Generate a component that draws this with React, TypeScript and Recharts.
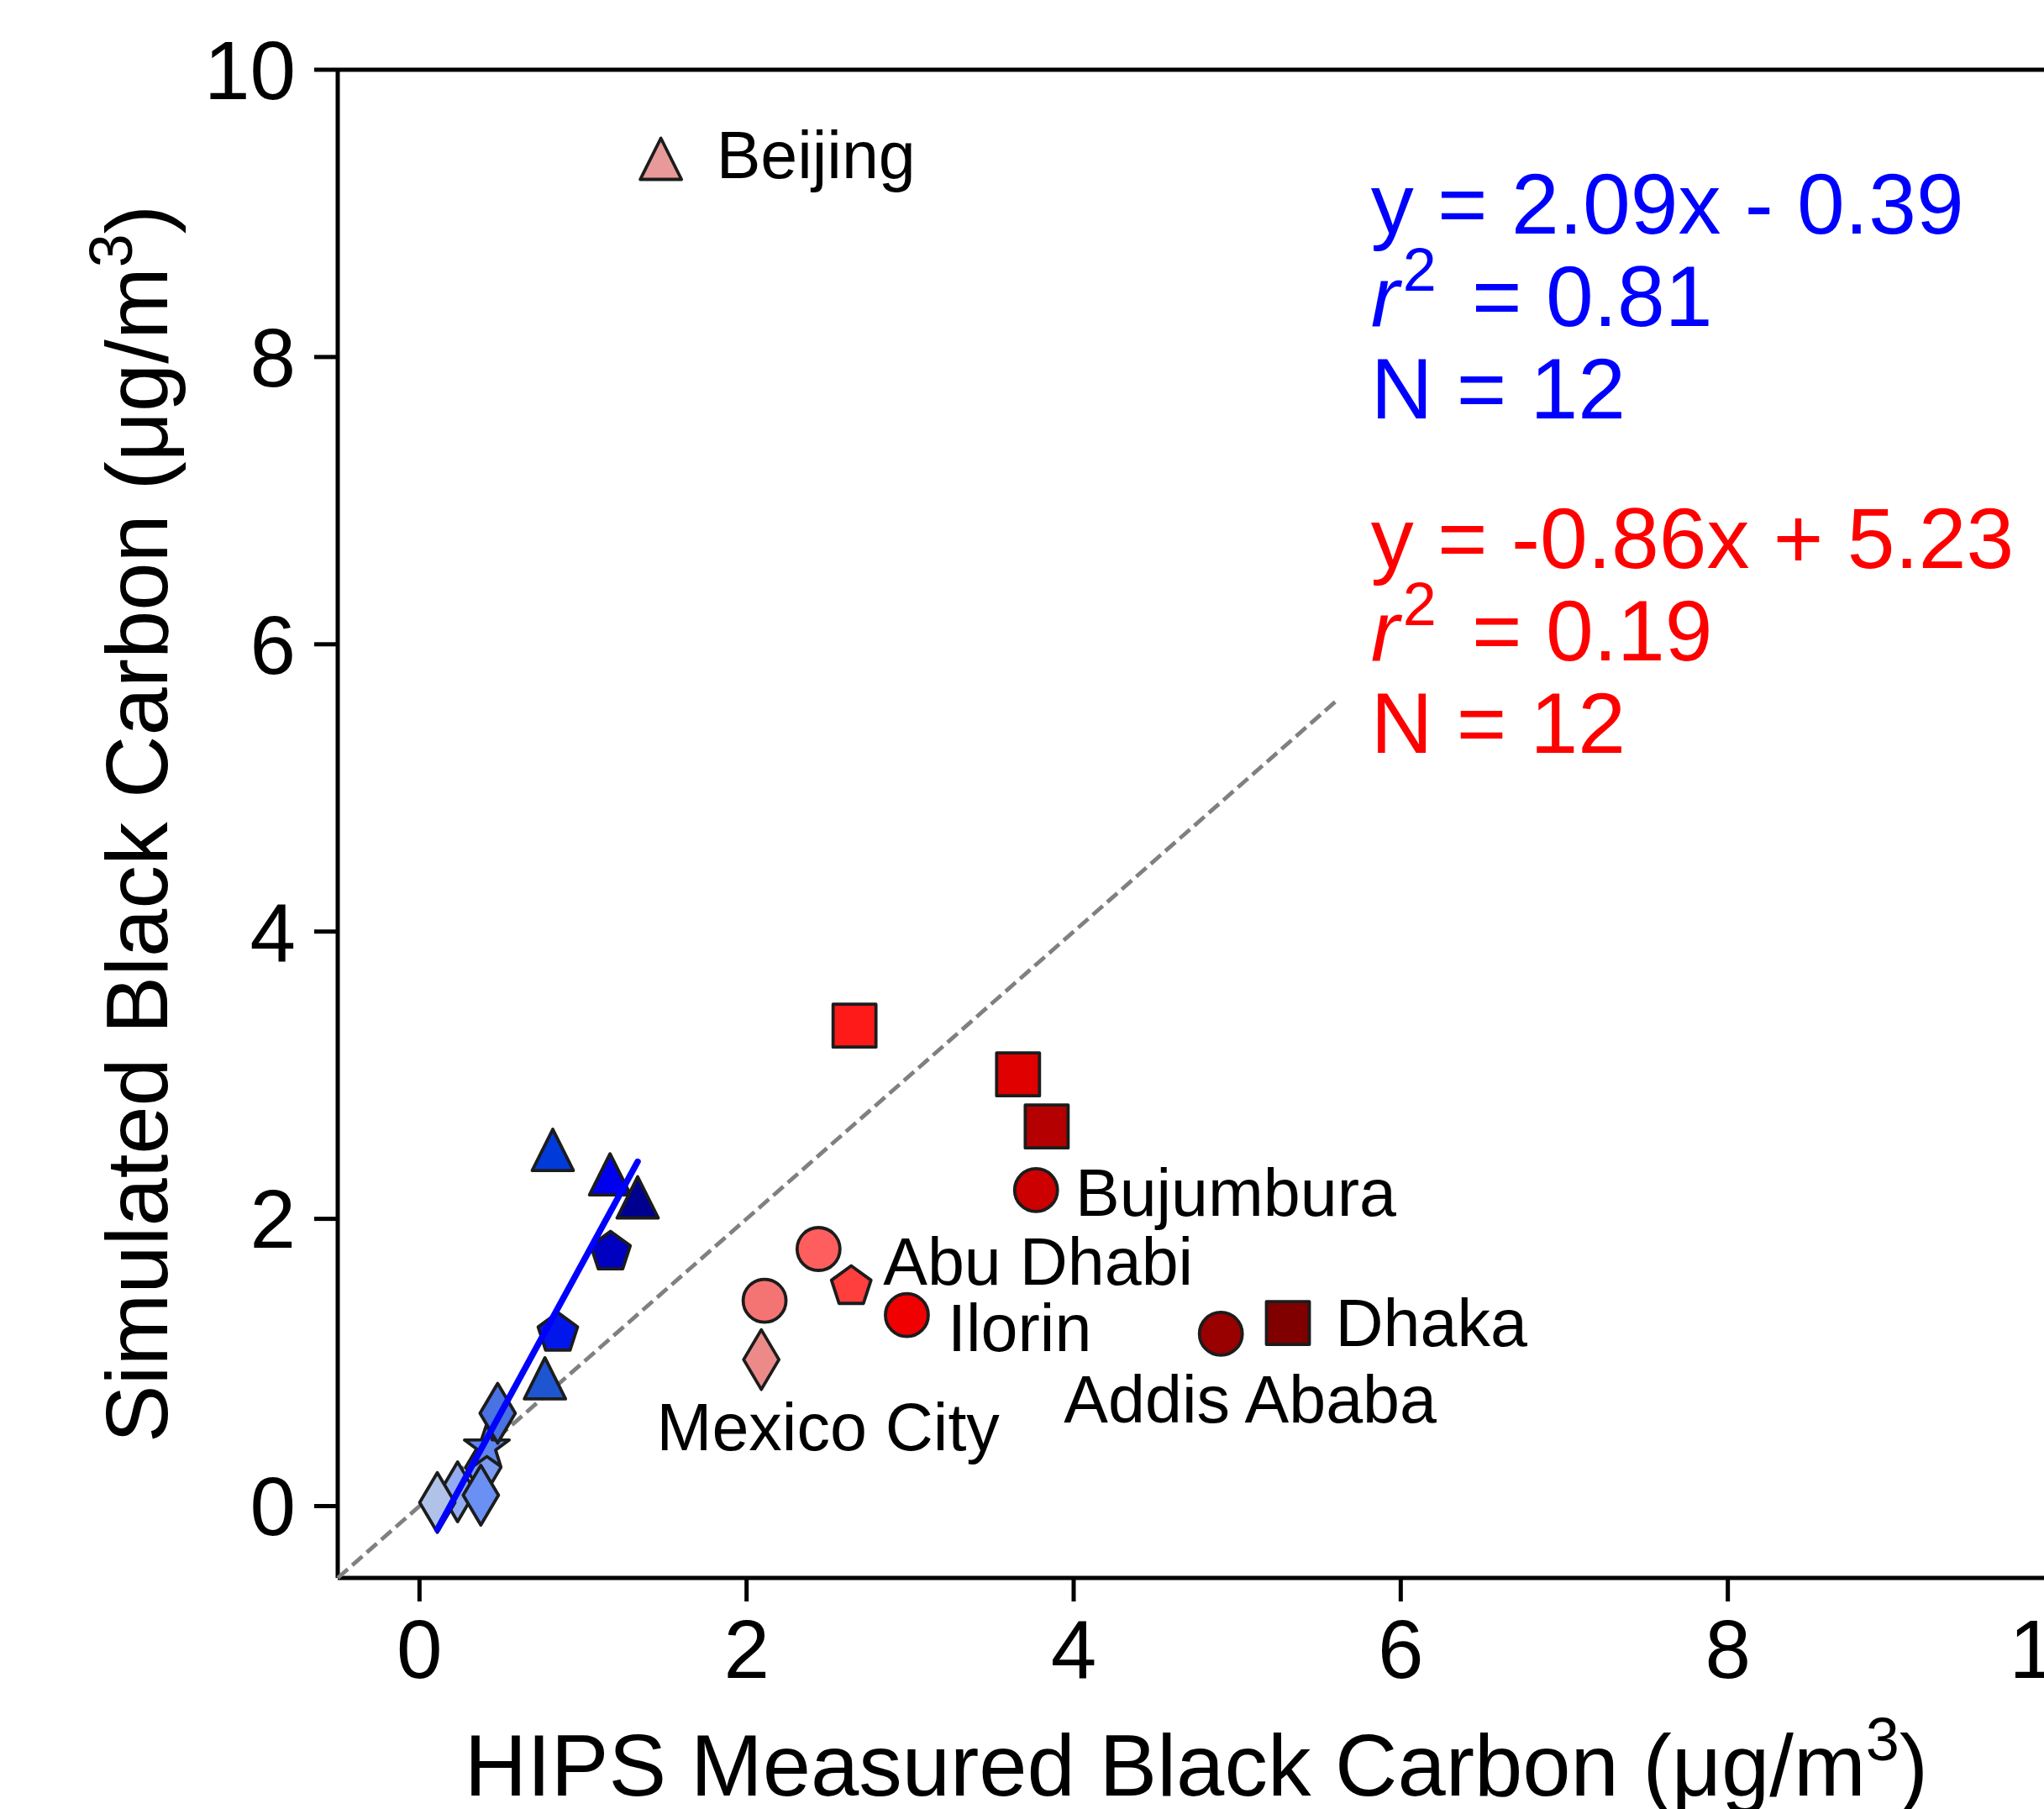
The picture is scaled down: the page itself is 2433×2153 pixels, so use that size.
import { ScatterChart, Scatter, XAxis, YAxis, ReferenceLine } from 'recharts'

// ─── Data ─────────────────────────────────────────────────────────────────────

const AXIS_TICKS = [0, 2, 4, 6, 8, 10]
const AXIS_DOMAIN: [number, number] = [-0.5, 10]

// Blue group, listed back-to-front (overlap order matters in the cluster)
const BLUE_X = [0.39, 0.233, 0.109, 0.375, 0.412, 0.478, 0.767, 0.846, 1.168, 0.815, 1.165, 1.334]
const BLUE_Y = [0.27, 0.1, 0.025, 0.076, 0.41, 0.646, 0.89, 1.215, 1.78, 2.48, 2.31, 2.15]
const BLUE_MARKERS = ['d', 'd', 'd', 'd', '*', 'd', '^', 'p', 'p', '^', '^', '^']

// Red group
const RED_X = [1.476, 2.66, 3.66, 3.835, 3.77, 2.44, 2.64, 2.11, 2.98, 2.09, 4.9, 5.31]
const RED_Y = [9.38, 3.345, 3.006, 2.643, 2.2, 1.79, 1.54, 1.43, 1.33, 1.02, 1.2, 1.275]
const RED_MARKERS = ['^', 's', 's', 's', 'o', 'o', 'p', 'o', 'o', 'd', 'o', 's']

// City annotations (text baseline-left, in data units)
const CITY_NAMES = ['Beijing', 'Bujumbura', 'Abu Dhabi', 'Ilorin', 'Mexico City', 'Addis Ababa', 'Dhaka']
const CITY_LABEL_X = [1.815, 4.01, 2.835, 3.23, 1.45, 3.94, 5.6]
const CITY_LABEL_Y = [9.245, 2.02, 1.544, 1.08, 0.39, 0.585, 1.115]

// Regression stats
const BLUE_FIT = { slope: 2.09, intercept: -0.39, r2: 0.81, n: 12 }
const RED_FIT = { slope: -0.86, intercept: 5.23, r2: 0.19, n: 12 }
const FIT_TEXT_X = 5.817
const FIT_TEXT_Y = [8.86, 6.53] // first baseline of blue / red block

// 1:1 reference
const ONE_TO_ONE_X = [-0.5, 5.6]

// ─── Style ────────────────────────────────────────────────────────────────────

const FONT = '"Liberation Sans", Arial, Helvetica, sans-serif'
const EDGE = '#1c1c1c'

const BLUE_FILLS = ['#7b9bf2', '#93abf0', '#b0c2e8', '#6b90f3', '#5f87ee', '#4a72e0',
  '#1e56d2', '#0016ea', '#0000c0', '#003ad8', '#0000ee', '#000090']
const RED_FILLS = ['#e89a9a', '#ff1a1a', '#e00000', '#b40000', '#cc0000', '#ff5e5e',
  '#ff3e3e', '#f47474', '#f00000', '#ec8a8a', '#990000', '#800000']

const W = 2500
const H = 2153
const Y_AXIS_W = 120
const X_AXIS_H = 120
const MARGIN = { top: 83, right: 54, bottom: 155, left: 282 }
const PLOT_L = MARGIN.left + Y_AXIS_W
const PLOT_R = W - MARGIN.right
const PLOT_T = MARGIN.top
const PLOT_B = H - MARGIN.bottom - X_AXIS_H

// ─── Prep ─────────────────────────────────────────────────────────────────────

const bluePoints = BLUE_X.map((x, i) => ({ x, y: BLUE_Y[i], marker: BLUE_MARKERS[i], fill: BLUE_FILLS[i] }))
const redPoints = RED_X.map((x, i) => ({ x, y: RED_Y[i], marker: RED_MARKERS[i], fill: RED_FILLS[i] }))
const cityLabels = CITY_NAMES.map((name, i) => ({ x: CITY_LABEL_X[i], y: CITY_LABEL_Y[i], name }))

const blueFitLine = [Math.min(...BLUE_X), Math.max(...BLUE_X)]
  .map(x => ({ x, y: BLUE_FIT.slope * x + BLUE_FIT.intercept }))
const oneToOne = ONE_TO_ONE_X.map(v => ({ x: v, y: v }))

const fitBlocks = [
  { x: FIT_TEXT_X, y: FIT_TEXT_Y[0], ...BLUE_FIT, color: '#0000ff' },
  { x: FIT_TEXT_X, y: FIT_TEXT_Y[1], ...RED_FIT, color: '#ff0000' },
]

// ─── Shapes ───────────────────────────────────────────────────────────────────

function pts(cx: number, cy: number, verts: number[][]) {
  return verts.map(([dx, dy]) => `${cx + dx},${cy + dy}`).join(' ')
}

function regular(n: number, r: number, inner?: number) {
  const out: number[][] = []
  const steps = inner ? n * 2 : n
  for (let k = 0; k < steps; k++) {
    const a = -Math.PI / 2 + (k * 2 * Math.PI) / steps
    const rr = inner && k % 2 === 1 ? inner : r
    out.push([rr * Math.cos(a), rr * Math.sin(a)])
  }
  return out
}

// eslint-disable-next-line @typescript-eslint/no-explicit-any
function Marker(props: any) {
  const { cx, cy, payload } = props
  const style = { fill: payload.fill, stroke: EDGE, strokeWidth: 3.8, strokeLinejoin: 'round' as const }
  switch (payload.marker) {
    case 'o':
      return <circle cx={cx} cy={cy} r={25.5} {...style} />
    case 's':
      return <rect x={cx - 25.5} y={cy - 25.5} width={51} height={51} {...style} />
    case '^':
      return <polygon points={pts(cx, cy, [[0, -24.5], [-24.5, 24.5], [24.5, 24.5]])} {...style} />
    case 'p':
      return <polygon points={pts(cx, cy + 2, regular(5, 24.7))} {...style} />
    case 'd':
      return <polygon points={pts(cx, cy, [[0, -35.5], [21, 0], [0, 35.5], [-21, 0]])} {...style} />
    case '*':
      return <polygon points={pts(cx, cy, regular(5, 28, 11))} {...style} />
    default:
      return <g />
  }
}

// Straight segment through the scatter's projected points
function segment(stroke: string, width: number, dash?: string) {
  // eslint-disable-next-line @typescript-eslint/no-explicit-any
  return (props: any) => {
    const p = props.points ?? []
    if (p.length < 2) return <g />
    const d = p.map((q: { x: number; y: number }, i: number) => `${i ? 'L' : 'M'}${q.x},${q.y}`).join(' ')
    return (
      <path d={d} fill="none" stroke={stroke} strokeWidth={width}
        strokeDasharray={dash} strokeLinecap={dash ? 'butt' : 'round'} />
    )
  }
}

// eslint-disable-next-line @typescript-eslint/no-explicit-any
function CityLabel({ cx, cy, payload }: any) {
  return (
    <text x={cx} y={cy} fontSize={79} fontFamily={FONT} fill="#000">{payload.name}</text>
  )
}

// eslint-disable-next-line @typescript-eslint/no-explicit-any
function FitBlock({ cx, cy, payload }: any) {
  const { slope, intercept, r2, n, color } = payload
  const eq = `y = ${slope.toFixed(2)}x ${intercept < 0 ? '-' : '+'} ${Math.abs(intercept).toFixed(2)}`
  return (
    <g fill={color} fontFamily={FONT} fontSize={102} style={{ whiteSpace: 'pre' }}>
      <text x={cx} y={cy}>{eq}</text>
      <text x={cx} y={cy + 110}>
        <tspan fontStyle="italic">r</tspan>
        <tspan fontSize={72} dx={4} dy={-42}>2</tspan>
        <tspan dx={14} dy={42}>{' = ' + r2.toFixed(2)}</tspan>
      </text>
      <text x={cx} y={cy + 220}>{`N = ${n}`}</text>
    </g>
  )
}

const noDot = () => <g />

// ─── Axes ─────────────────────────────────────────────────────────────────────

// eslint-disable-next-line @typescript-eslint/no-explicit-any
function XTick({ x, y, payload }: any) {
  return (
    <text x={x} y={y} dy="0.71em" textAnchor="middle" fontSize={98} fontFamily={FONT} fill="#000">
      {payload.value}
    </text>
  )
}

// eslint-disable-next-line @typescript-eslint/no-explicit-any
function YTick({ x, y, payload }: any) {
  return (
    <text x={x} y={y} dy="0.355em" textAnchor="end" fontSize={98} fontFamily={FONT} fill="#000">
      {payload.value}
    </text>
  )
}

function XTitle() {
  return (
    <text x={(PLOT_L + PLOT_R) / 2} y={2137} textAnchor="middle" fontSize={103} fontFamily={FONT} fill="#000">
      HIPS Measured Black Carbon (μg/m<tspan fontSize={72} dy={-42}>3</tspan><tspan dy={42}>)</tspan>
    </text>
  )
}

function YTitle() {
  const cx = 199
  const cy = (PLOT_T + PLOT_B) / 2
  return (
    <text x={cx} y={cy} transform={`rotate(-90, ${cx}, ${cy})`} textAnchor="middle"
      fontSize={103} fontFamily={FONT} fill="#000">
      Simulated Black Carbon (μg/m<tspan fontSize={72} dy={-42}>3</tspan><tspan dy={42}>)</tspan>
    </text>
  )
}

const axisStroke = { stroke: '#000', strokeWidth: 5 }

// ─── Component ────────────────────────────────────────────────────────────────

export default function App() {
  return (
    <div style={{
      position: 'absolute', left: 0, top: 0, width: 2433, height: 2153,
      overflow: 'hidden', background: '#fff',
    }}>
      <ScatterChart width={W} height={H} margin={MARGIN}>
        <XAxis
          type="number"
          dataKey="x"
          domain={AXIS_DOMAIN}
          ticks={AXIS_TICKS}
          interval={0}
          height={X_AXIS_H}
          tickSize={28}
          tickMargin={21}
          axisLine={axisStroke}
          tickLine={axisStroke}
          tick={XTick}
          label={<XTitle />}
        />
        <YAxis
          type="number"
          dataKey="y"
          domain={AXIS_DOMAIN}
          ticks={AXIS_TICKS}
          interval={0}
          width={Y_AXIS_W}
          tickSize={28}
          tickMargin={22}
          axisLine={axisStroke}
          tickLine={axisStroke}
          tick={YTick}
          label={<YTitle />}
        />
        <ReferenceLine y={10} stroke="#000" strokeWidth={5} ifOverflow="visible" />
        <ReferenceLine x={10} stroke="#000" strokeWidth={5} ifOverflow="visible" />

        {/* 1:1 line */}
        <Scatter
          data={oneToOne}
          shape={noDot}
          line={segment('#808080', 4.8, '16 7')}
          isAnimationActive={false}
        />

        <Scatter data={redPoints} shape={Marker} isAnimationActive={false} />
        <Scatter data={bluePoints} shape={Marker} isAnimationActive={false} />

        {/* blue regression */}
        <Scatter
          data={blueFitLine}
          shape={noDot}
          line={segment('#0000ff', 7.5)}
          isAnimationActive={false}
        />

        <Scatter data={cityLabels} shape={CityLabel} isAnimationActive={false} />
        <Scatter data={fitBlocks} shape={FitBlock} isAnimationActive={false} />
      </ScatterChart>
    </div>
  )
}
